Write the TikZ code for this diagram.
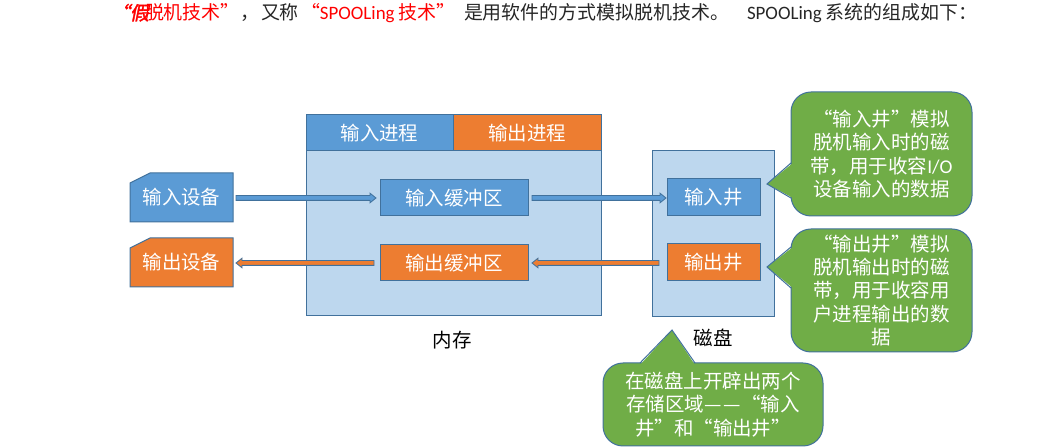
\documentclass[tikz,border=0pt]{standalone}
\usepackage{fontspec}
\setmainfont{Noto Sans CJK SC}
\newfontfamily\lat{Carlito}
\newfontfamily\fw{Noto Sans CJK SC}[CharacterWidth=Full]
\newfontfamily\cjkbi{Noto Sans CJK SC}[FakeSlant=0.2,FakeBold=2]
\newcommand\zlq{{\fw “}}
\newcommand\zrq{{\fw ”}}
\usetikzlibrary{calc,backgrounds}
\definecolor{bblue}{HTML}{5B9BD5}
\definecolor{borange}{HTML}{ED7D31}
\definecolor{lblue}{HTML}{BDD7EE}
\definecolor{bgreen}{HTML}{70AD47}
\definecolor{bord}{HTML}{41719C}
\definecolor{ttl}{HTML}{262626}
\newcommand\blockarrow[3]{%
  \coordinate (ba-s) at (#1);
  \coordinate (ba-t) at (#2);
  \coordinate (ba-h) at ($(ba-t)!4.5pt!(ba-s)$);
  \filldraw[fill=#3, draw=bord, line width=0.6pt, line join=miter]
    ($(ba-s)!1.8pt!90:(ba-t)$) -- ($(ba-h)!1.8pt!90:(ba-t)$) --
    ($(ba-h)!3.6pt!90:(ba-t)$) -- (ba-t) --
    ($(ba-h)!3.6pt!-90:(ba-t)$) -- ($(ba-h)!1.8pt!-90:(ba-t)$) --
    ($(ba-s)!1.8pt!-90:(ba-t)$) -- cycle;}
\tikzset{
  every node/.style={inner sep=0pt, outer sep=0pt},
  span/.style n args={4}{at={({(#1+#3)/2},{(#2+#4)/2})},
    minimum width={(#3-#1)*0.75pt}, minimum height={(#4-#2)*0.75pt}},
  lab/.style={font=\fontsize{14.6pt}{17.6pt}\selectfont},
  ttlfont/.style={font=\fontsize{14.2pt}{16pt}\selectfont, anchor=base west},
  bx/.style={rectangle, draw=bord, line width=0.75pt, lab, text=white},
  area/.style={rectangle, draw=bord, line width=0.75pt, fill=lblue},
  devshape/.style={fill=#1, draw=bord, line width=0.75pt},
  callout/.style={rectangle, draw=bord, fill=bgreen, line width=0.75pt,
    rounded corners=15pt, lab, text=white, align=center},
  ptr/.style={draw=bord, line width=0.75pt, line join=miter},
}
\begin{document}
\begin{tikzpicture}[x=0.75pt, y=-0.75pt]
\useasboundingbox (0,0) rectangle (1057,448);

% title
\node[ttlfont, text=red] (t1) at (111,20) {{\cjkbi “假}};
\node[ttlfont, text=red] (t2) at (145,20) {脱机技术”};
\node[ttlfont, text=ttl] (t3) at (240,20) {，};
\node[ttlfont, text=ttl] (t4) at (261,20) {又称};
\node[ttlfont, text=red] (t5) at (301,20) {“{\lat SPOOLing} 技术”};
\node[ttlfont, text=ttl] (t6) at (464,20) {是用软件的方式模拟脱机技术。};
\node[ttlfont, text=ttl] (t7) at (747,20) {{\lat SPOOLing} 系统的组成如下：};

% memory
\node[area, span={306}{115}{601}{316}] (mem) {};
\node[bx, fill=bblue, span={306}{115}{453}{151}] (inproc) {输入进程};
\node[bx, fill=borange, span={453}{115}{601}{151}] (outproc) {输出进程};
\node[bx, fill=bblue, span={380}{180}{528}{216}] (inbuf) {输入缓冲区};
\node[bx, fill=borange, span={380}{245}{528}{281}] (outbuf) {输出缓冲区};
\node[lab] (memlab) at (452,340) {内存};

% disk
\node[area, span={652}{151}{774}{317}] (disk) {};
\node[bx, fill=bblue, span={667}{179}{760}{216}] (inwell) {输入井};
\node[bx, fill=borange, span={667}{244}{760}{281}] (outwell) {输出井};
\node[lab] (disklab) at (713,338) {磁盘};

% devices
\node[lab, text=white, span={130}{173}{233}{222}] (ind) {\raisebox{-4.5pt}{输入设备}};
\node[lab, text=white, span={130}{238}{233}{287}] (outd) {\raisebox{-4.5pt}{输出设备}};
\begin{scope}[on background layer]
  \draw[devshape=bblue] (ind.south west) -- (ind.south east) -- (ind.north east)
    -- ($(ind.north west)+(20,0)$) -- ($(ind.north west)+(0,10)$) -- cycle;
  \draw[devshape=borange] (outd.south west) -- (outd.south east) -- (outd.north east)
    -- ($(outd.north west)+(20,0)$) -- ($(outd.north west)+(0,10)$) -- cycle;
\end{scope}

% block arrows
\blockarrow{$(ind.east |- inbuf.west)+(3,0)$}{$(inbuf.west)+(-4,0)$}{bblue}
\blockarrow{$(inbuf.east)+(4,0)$}{$(inwell.west |- inbuf.east)+(-1,0)$}{bblue}
\blockarrow{$(outwell.west |- outbuf.east)+(-8,0)$}{$(outbuf.east)+(4,0)$}{borange}
\blockarrow{$(outbuf.west)+(-6,0)$}{$(outd.east |- outbuf.west)+(3,0)$}{borange}

% callouts
\node[callout, span={791}{92}{972}{216}] (c1)
  {\zlq 输入井\zrq 模拟\\脱机输入时的磁\\带，用于收容{\lat I/O}\\设备输入的数据};
\coordinate (c1tip) at (767,184);
\fill[bgreen] ($(c1.west |- 0,163)+(2,0)$) -- (c1tip) -- ($(c1.west |- 0,198)+(2,0)$) -- cycle;
\draw[ptr] (c1.west |- 0,163) -- (c1tip) -- (c1.west |- 0,198);

\node[callout, span={791}{229}{972}{352}] (c2)
  {\zlq 输出井\zrq 模拟\\脱机输出时的磁\\带，用于收容用\\户进程输出的数\\据};
\coordinate (c2tip) at (767,267);
\fill[bgreen] ($(c2.west |- 0,247)+(2,0)$) -- (c2tip) -- ($(c2.west |- 0,288)+(2,0)$) -- cycle;
\draw[ptr] (c2.west |- 0,247) -- (c2tip) -- (c2.west |- 0,288);

\node[callout, span={603}{363}{823}{446}] (c3)
  {在磁盘上开辟出两个\\存储区域—\kern1.5pt—\zlq 输入\\井\zrq 和\zlq 输出井\zrq};
\coordinate (c3tip) at (672,330);
\fill[bgreen] ($(c3.north)+(-73,2)$) -- (c3tip) -- ($(c3.north)+(-18,2)$) -- cycle;
\draw[ptr] ($(c3.north)+(-73,0)$) -- (c3tip) -- ($(c3.north)+(-18,0)$);
\end{tikzpicture}
\end{document}
